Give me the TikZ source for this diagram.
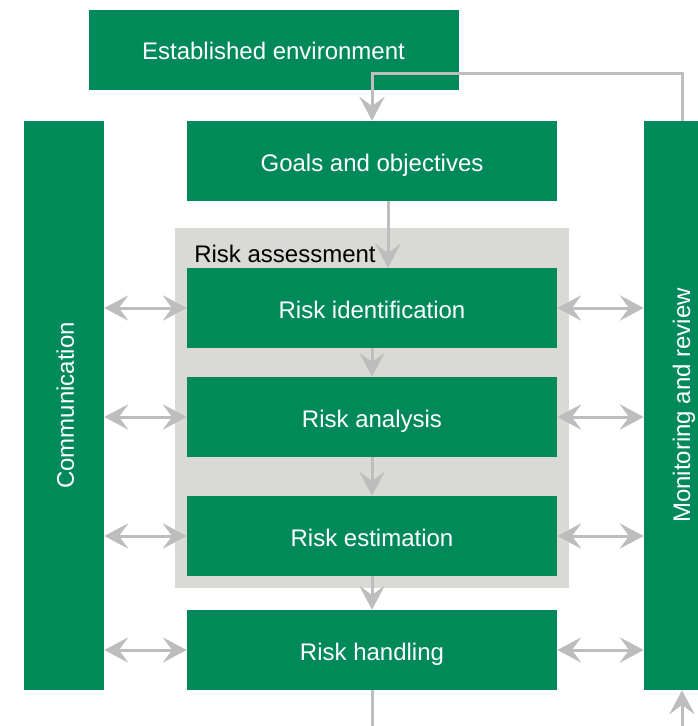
\documentclass[tikz,border=0pt]{standalone}
\usepackage{fontspec}
\setmainfont{Liberation Sans}
\usetikzlibrary{arrows.meta}
\definecolor{boxgreen}{HTML}{008A5A}
\definecolor{panelgray}{HTML}{D9D9D6}
\definecolor{linkgray}{HTML}{BDBDBD}
\begin{document}
\begin{tikzpicture}[x=0.75pt,y=-0.75pt,
  stepbox/.style={fill=boxgreen,text=white,inner sep=0pt,
    minimum width=277.5pt,minimum height=60pt,
    text height=15pt,text depth=0pt,
    font=\fontsize{18}{20}\selectfont},
  sidebar/.style={fill=boxgreen,inner sep=0pt,minimum height=426.75pt},
  sidetext/.style={text=white,rotate=90,inner sep=0pt,
    text height=15pt,text depth=0pt,
    font=\fontsize{18}{20}\selectfont},
  link/.style={draw=linkgray,line width=2.25pt},
  tip/.style={-{Stealth[length=18pt,width=19pt,inset=7pt]}},
  dtip/.style={{Stealth[length=18pt,width=19pt,inset=7pt]}-{Stealth[length=18pt,width=19pt,inset=7pt]}}]
\useasboundingbox (0,0) rectangle (698,726);

% assessment panel behind the three assessment steps
\node[fill=panelgray,inner sep=0pt,minimum width=295.5pt,minimum height=270pt] (panel) at (372,408) {};
\node[anchor=base west,inner sep=0pt,font=\fontsize{18}{20}\selectfont] (paneltitle) at (194,262) {Risk assessment};

% process steps
\node[stepbox] (env) at (273.5,49.5) {Established environment};
\node[stepbox] (goals) at (372,161) {Goals and objectives};
\node[stepbox] (ident) at (372,308) {Risk identification};
\node[stepbox] (analysis) at (372,417) {Risk analysis};
\node[stepbox] (estim) at (372,536) {Risk estimation};
\node[stepbox] (handle) at (372,650) {Risk handling};

% side bars
\node[sidebar,minimum width=60pt] (comm) at (64,405.5) {};
\node[sidetext] (commtext) at (64,405.5) {Communication};
\node[sidebar,minimum width=40.5pt] (monitor) at (671,405.5) {};
\node[sidetext] (montext) at (680,405.5) {Monitoring and review};

% free ends at the lower edge
\coordinate (outflow) at (372,726);
\coordinate (inflow) at (682,726);

% feedback loop from monitoring back to the goals
\draw[link,tip] ([xshift=8.25pt]monitor.north) |- (372,73) -- (goals.north);

% main flow
\draw[link,tip] ([xshift=12pt]goals.south) -- ([xshift=12pt]ident.north);
\draw[link,tip] (ident) -- (analysis);
\draw[link,tip] (analysis) -- (estim);
\draw[link,tip] (estim) -- (handle);
\draw[link] (handle) -- (outflow);
\draw[link,tip] (inflow) -- ([xshift=8.25pt]monitor.south);

% exchanges with communication and monitoring
\foreach \s in {ident,analysis,estim,handle}{
  \draw[link,dtip] (comm.east |- \s.west) -- (\s.west);
  \draw[link,dtip] (\s.east) -- (monitor.west |- \s.east);
}
\end{tikzpicture}
\end{document}
